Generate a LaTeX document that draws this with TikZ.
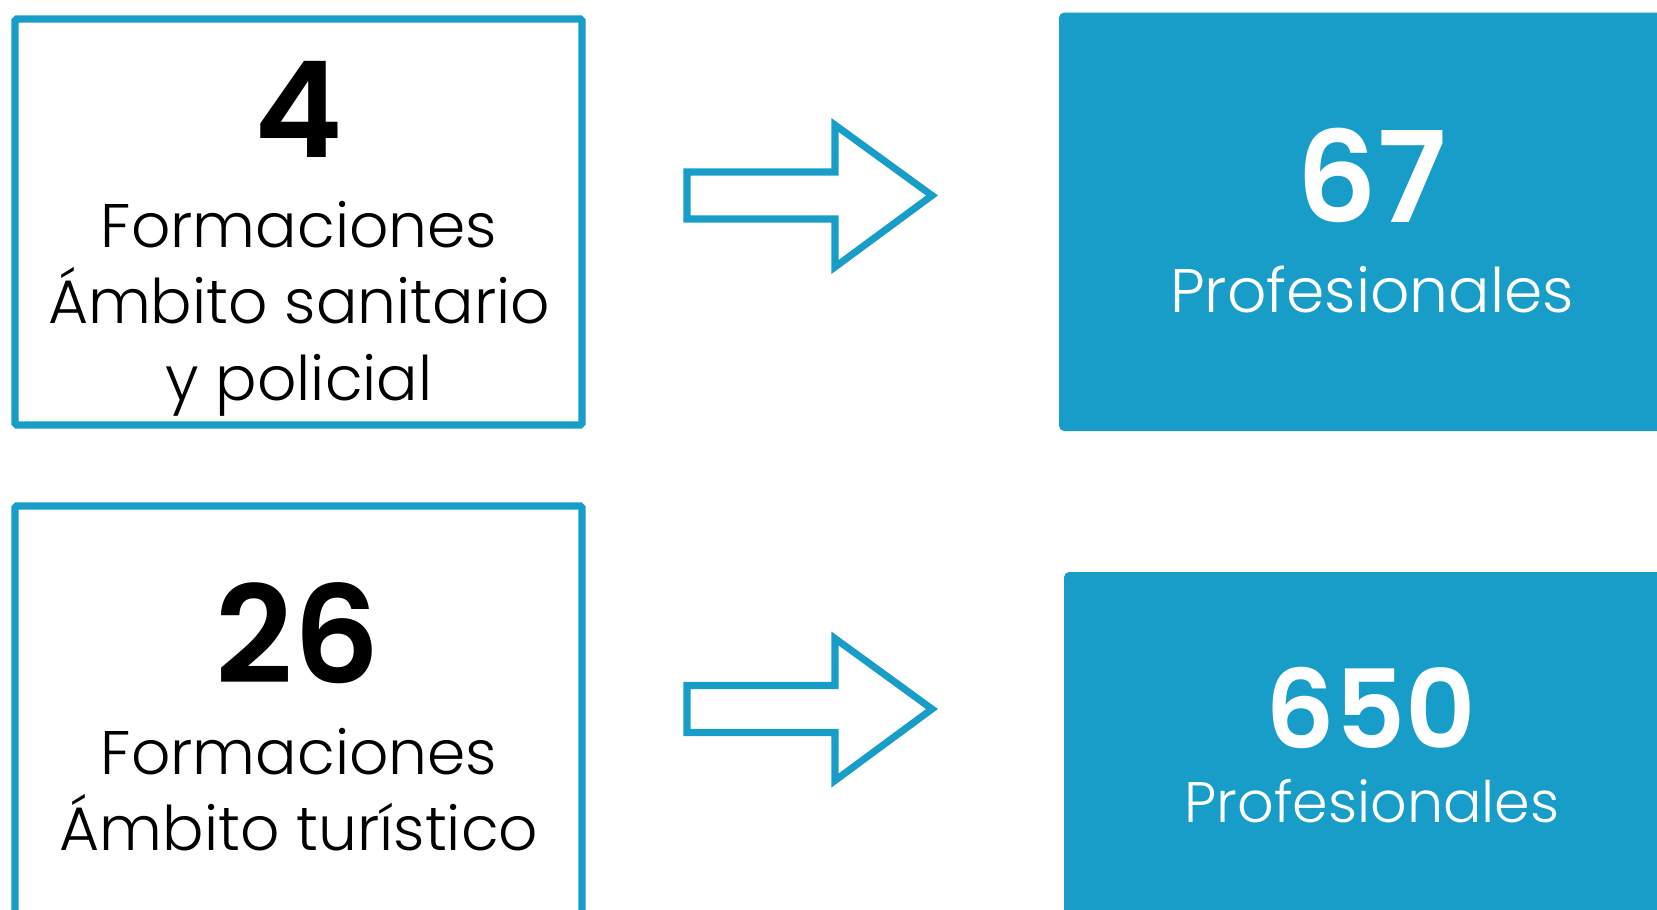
\documentclass[tikz,border=0pt]{standalone}
\usepackage{fontspec}
\setmainfont{Poppins}
\newfontfamily\fino{Poppins Light}
\newfontfamily\grueso{Poppins SemiBold}
\usetikzlibrary{calc}
\definecolor{azul}{RGB}{24,157,201}
\tikzset{
    marco/.style={draw=azul, line width=4.2pt, rounded corners=1pt},
    lleno/.style={fill=azul, rounded corners=3pt},
    cifra/.style={anchor=base},
    texto/.style={anchor=base, align=center},
    flecha/.pic={
      \draw[azul, line width=4pt, line join=miter]
        (0,0.47) -- (2.96,0.47) -- (2.96,1.41) -- (4.9,0)
        -- (2.96,-1.43) -- (2.96,-0.47) -- (0,-0.47) -- cycle;
    },
  }

\begin{document}
\begin{tikzpicture}
				  %marco de la figura
				  \clip (0,0) rectangle (33.14,-18.18);
				  \fill[white] (0,0) rectangle (33.14,-18.18);

				  %cajas de formaciones
				  \coordinate (F1) at (0.3,-0.38);
				  \coordinate (F2) at (0.3,-10.12);
				  \draw[marco] (F1) rectangle +(11.34,-8.12);
				  \draw[marco] (F2) rectangle +(11.34,-9);

				  %cajas de profesionales
				  \coordinate (P1) at (21.18,-0.25);
				  \coordinate (P2) at (21.28,-11.44);
				  \fill[lleno] (P1) rectangle +(13,-8.37);
				  \fill[lleno] (P2) rectangle +(13,-8);

				  %flechas
				  \pic at (13.74,-3.91) {flecha};
				  \pic at (13.74,-14.18) {flecha};

				  %textos
				  \node[cifra, font=\grueso\fontsize{76}{76}\selectfont] (n4) at (5.98,-3.14) {4};
				  \node[texto, font=\fino\fontsize{35}{40}\selectfont] (t1a) at (5.98,-4.95) {Formaciones};
				  \node[texto, font=\fino\fontsize{35}{40}\selectfont] (t1b) at (5.98,-6.47) {Ámbito sanitario};
				  \node[texto, font=\fino\fontsize{35}{40}\selectfont] (t1c) at (5.98,-8.01) {y policial};

				  \node[cifra, font=\grueso\fontsize{77}{77}\selectfont] (n26) at (5.96,-13.66) {26};
				  \node[texto, font=\fino\fontsize{35}{40}\selectfont] (t2a) at (5.98,-15.48) {Formaciones};
				  \node[texto, font=\fino\fontsize{35}{40}\selectfont] (t2b) at (5.98,-17.0) {Ámbito turístico};

				  \node[cifra, white, font=\grueso\fontsize{72}{72}\selectfont] (n67) at (27.44,-4.44) {67};
				  \node[texto, white, font=\fino\fontsize{35}{40}\selectfont] (p1) at (27.44,-6.24) {Profesionales};

				  \node[cifra, white, font=\grueso\fontsize{62}{62}\selectfont] (n650) at (27.42,-14.96) {650};
				  \node[texto, white, font=\fino\fontsize{32.5}{36}\selectfont] (p2) at (27.44,-16.44) {Profesionales};
				  \end{tikzpicture}
\end{document}
